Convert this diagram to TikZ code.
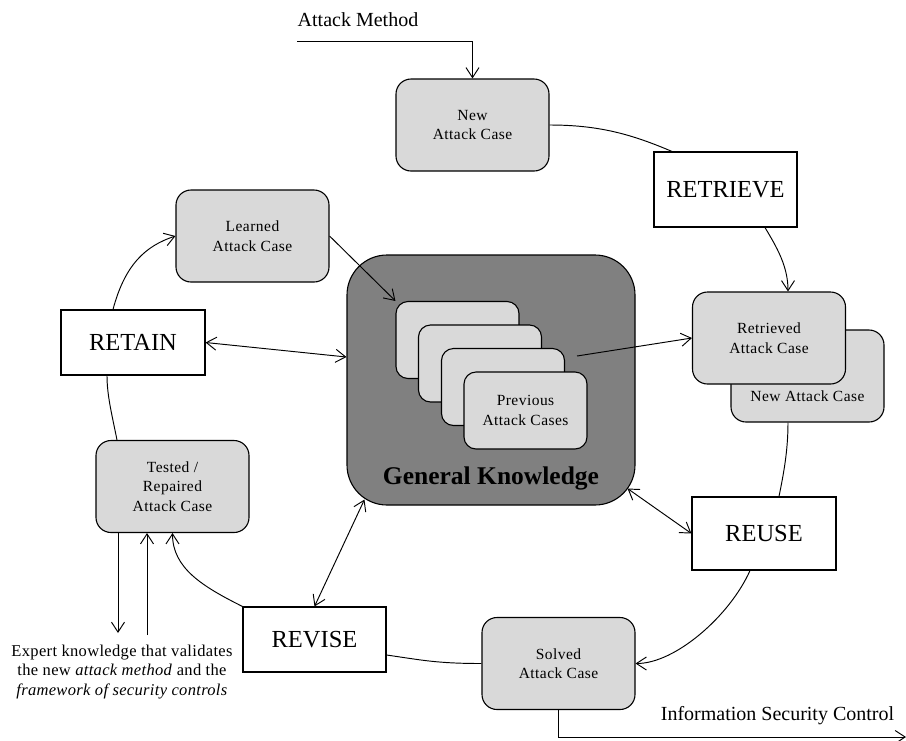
\documentclass[tikz,border=0pt]{standalone}
\usepackage{fontspec}
\setmainfont{Liberation Serif}
\usetikzlibrary{arrows.meta,calc}
\definecolor{boxgray}{RGB}{217,217,217}
\definecolor{gkgray}{RGB}{128,128,128}
\newcommand{\casefont}{\fontsize{15.5}{19.5}\selectfont\addfontfeature{LetterSpace=3}}
\begin{document}
\begin{tikzpicture}[x=1pt,y=-1pt,
  casebox/.style={draw=black, line width=1.1pt, fill=boxgray, rounded corners=15pt,
    minimum width=153pt, minimum height=92pt, inner sep=0pt, align=center,
    font=\casefont},
  cardbox/.style={draw=black, line width=1.1pt, fill=boxgray, rounded corners=12pt,
    minimum width=123pt, minimum height=77pt, inner sep=0pt, align=center,
    font=\casefont},
  stepbox/.style={draw=black, line width=1.1pt, fill=white, inner sep=0pt,
    font=\fontsize{24.5}{28}\selectfont},
  gkbox/.style={draw=black, line width=1.1pt, fill=gkgray, rounded corners=40pt,
    minimum width=288pt, minimum height=250pt, inner sep=0pt},
  plain/.style={inner sep=0pt, align=center},
  conn/.style={line width=0.95pt},
  arr/.style={conn, -{Straight Barb[length=10pt,width=13pt]}},
  dbl/.style={conn, {Straight Barb[length=10pt,width=13pt]}-{Straight Barb[length=10pt,width=13pt]}}
]
\useasboundingbox (0,0) rectangle (906,740);

% process steps
\node[stepbox, minimum width=143pt, minimum height=75pt] (retrieve) at (725.5,189.5) {RETRIEVE};
\node[stepbox, minimum width=144pt, minimum height=73pt] (reuse) at (764,533.5) {REUSE};
\node[stepbox, minimum width=143pt, minimum height=65pt] (revise) at (314.5,639.5) {REVISE};
\node[stepbox, minimum width=144pt, minimum height=65pt] (retain) at (133,342.5) {RETAIN};

% cases
\node[casebox] (nac) at (472.5,125) {New\\Attack Case};
\node[casebox] (back) at (807.5,376) {};
\node[plain, font=\casefont] (backtxt) at (807.5,396) {New Attack Case};
\node[casebox] (retr) at (769,338) {Retrieved\\Attack Case};
\node[casebox] (solved) at (558.5,663.5) {Solved\\Attack Case};
\node[casebox] (tested) at (172.5,486.5) {Tested /\\Repaired\\Attack Case};
\node[casebox] (learned) at (252.5,236) {Learned\\Attack Case};

% general knowledge
\node[gkbox] (gk) at (491,380) {};
\node[cardbox] (c1) at (457.5,340) {};
\node[cardbox] (c2) at (480,363.5) {};
\node[cardbox] (c3) at (503,387) {};
\node[cardbox] (c4) at (525.5,410.5) {Previous\\Attack Cases};
\node[plain, font=\fontsize{25.5}{28}\selectfont\bfseries] (gktxt) at (491,478) {General Knowledge};

% free texts
\node[plain, font=\fontsize{20}{24}\selectfont] (amtxt) at (358,20) {Attack Method};
\node[plain, font=\fontsize{20}{24}\selectfont] (isctxt) at (777.5,716) {Information Security Control};
\node[plain, font=\fontsize{16.5}{19.5}\selectfont\addfontfeature{LetterSpace=2}] (expert) at (122,672)
  {Expert knowledge that validates\\the new \textit{attack method} and the\\\textit{framework of security controls}};

% coordinates
\coordinate (amstart) at (297,41);
\coordinate (gkout) at (577,356);
\coordinate (ex1) at (118,633);
\coordinate (ex2) at (147,635);
\coordinate (isc) at (906,737);

% connectors
\draw[arr] (amstart) -| (nac.north);
\draw[conn] (nac.east) .. controls +(50,0) and +(-40,-17) .. ($(retrieve.north)+(-53.5,0)$);
\draw[arr] ($(retrieve.south)+(39.5,0)$) .. controls +(12,20) and +(0,-25) .. ($(retr.north)+(19,0)$);
\draw[conn] ($(back.south)+(-19.5,0)$) .. controls +(0,30) and +(4,-20) .. ($(reuse.north)+(15,0)$);
\draw[arr] ($(reuse.south)+(-14,0)$) .. controls +(-20,45) and +(40,0) .. (solved.east);
\draw[conn] (solved.west) .. controls +(-45,0) and +(35,5) .. ($(revise.east)+(0,15.5)$);
\draw[arr] (revise.north west) .. controls +(-40,-20) and +(0,35) .. (tested.south);
\draw[arr] (ex1 |- tested.south) -- (ex1);
\draw[arr] (ex2) -- (ex2 |- tested.south);
\draw[conn] ($(tested.north)+(-55.5,0)$) .. controls +(-5,-25) and +(0,20) .. ($(retain.south)+(-26,0)$);
\draw[arr] ($(retain.north)+(-20,0)$) .. controls +(12,-45) and +(-30,10) .. (learned.west);
\draw[arr] (learned.east) -- (c1.north west);
\draw[arr] (gkout) -- (retr.west);
\draw[dbl] (retain.east) -- ($(gk.west)+(0,-23)$);
\draw[dbl] ($(gk.south east)+(-8,-17)$) -- (reuse.west);
\draw[dbl] ($(gk.south west)+(18,-6)$) -- (revise.north);
\draw[arr] (solved.south) |- (isc);
\end{tikzpicture}
\end{document}
